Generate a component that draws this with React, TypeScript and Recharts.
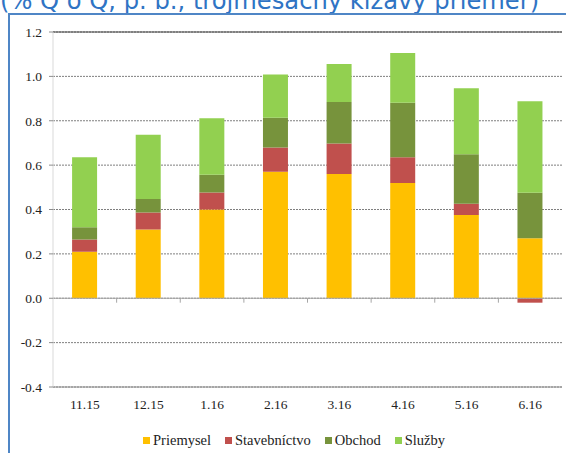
import React from "react"
import { BarChart, Bar, XAxis, YAxis, CartesianGrid, Legend, ReferenceLine } from "recharts"

const months = ["11.15", "12.15", "1.16", "2.16", "3.16", "4.16", "5.16", "6.16"]
const priemysel = [0.21, 0.31, 0.4, 0.57, 0.56, 0.52, 0.375, 0.27]
const stavebnictvo = [0.055, 0.077, 0.077, 0.11, 0.137, 0.116, 0.051, -0.02]
const obchod = [0.055, 0.06, 0.08, 0.133, 0.188, 0.245, 0.223, 0.205]
const sluzby = [0.315, 0.29, 0.254, 0.195, 0.171, 0.224, 0.298, 0.413]
const yTicks = [-0.4, -0.2, 0, 0.2, 0.4, 0.6, 0.8, 1.0, 1.2]

const series = [
  { key: "priemysel", name: "Priemysel", color: "#FFC000" },
  { key: "stavebnictvo", name: "Stavebníctvo", color: "#C0504D" },
  { key: "obchod", name: "Obchod", color: "#77933C" },
  { key: "sluzby", name: "Služby", color: "#92D050" },
]

const data = months.map((m, i) => ({
  month: m,
  priemysel: priemysel[i],
  stavebnictvo: stavebnictvo[i],
  obchod: obchod[i],
  sluzby: sluzby[i],
}))

const serif = "'Liberation Serif', 'Times New Roman', serif"

function LegendContent() {
  return (
    <div
      style={{
        display: "flex",
        justifyContent: "center",
        alignItems: "center",
        height: 26,
        fontFamily: serif,
        fontSize: 14.5,
        color: "#222",
        paddingLeft: 26,
      }}
    >
      {series.map((s, i) => (
        <span
          key={s.key}
          style={{ display: "flex", alignItems: "center", marginLeft: i === 0 ? 0 : 14 }}
        >
          <span style={{ width: 7, height: 7, background: s.color, marginRight: 3, display: "inline-block" }} />
          {s.name}
        </span>
      ))}
    </div>
  )
}

export default function App() {
  return (
    <div style={{ position: "absolute", left: 0, top: 0, width: 566, height: 453, overflow: "hidden", background: "#fff" }}>
      <style>{`.recharts-cartesian-axis-tick-value { font-family: ${serif}; }`}</style>
      <div
        style={{
          position: "absolute",
          left: 0,
          top: -14,
          fontFamily: "'DejaVu Sans', sans-serif",
          fontSize: 24.2,
          color: "#2f74c4",
          whiteSpace: "nowrap",
          lineHeight: "30px",
        }}
      >
        (% Q o Q, p. b., trojmesačný kĺzavý priemer)
      </div>
      <div
        style={{
          position: "absolute",
          left: 8,
          top: 13,
          width: 566,
          height: 460,
          borderTop: "2px solid #4f86c6",
          borderLeft: "2px solid #4f86c6",
        }}
      />
      <BarChart
        width={566}
        height={453}
        data={data}
        stackOffset="sign"
        barCategoryGap="30%"
        margin={{ top: 32, right: 4, left: 0, bottom: 0 }}
        style={{ position: "absolute", left: 0, top: 0 }}
      >
        <CartesianGrid vertical={false} stroke="#7f7f7f" strokeDasharray="2 1" />
        <XAxis
          dataKey="month"
          height={40}
          tickLine={false}
          tickSize={0}
          tickMargin={12}
          axisLine={{ stroke: "#8c8c8c" }}
          tick={{ fontFamily: serif, fontSize: 13.5, fill: "#222" }}
        />
        <YAxis
          domain={[-0.4, 1.2]}
          ticks={yTicks}
          width={53}
          tickSize={4}
          tickMargin={7}
          interval={0}
          allowDataOverflow
          tickFormatter={(v: number) => v.toFixed(1)}
          axisLine={{ stroke: "#d9d9d9" }}
          tickLine={{ stroke: "#8c8c8c" }}
          tick={{ fontFamily: serif, fontSize: 13.5, fill: "#222" }}
        />
        <YAxis
          yAxisId="right"
          orientation="right"
          domain={[-0.4, 1.2]}
          width={0}
          tick={false}
          tickLine={false}
          axisLine={{ stroke: "#d9d9d9" }}
        />
        <ReferenceLine y={1.2} stroke="#404040" />
        <ReferenceLine y={0} stroke="#a6a6a6" />
        {months.slice(1).map((m) => (
          <ReferenceLine
            key={m}
            segment={[{ x: m, y: 0 }, { x: m, y: -0.02 }]}
            position="start"
            stroke="#a6a6a6"
          />
        ))}
        <Legend content={<LegendContent />} height={26} verticalAlign="bottom" />
        {series.map((s) => (
          <Bar key={s.key} dataKey={s.key} name={s.name} stackId="a" fill={s.color} isAnimationActive={false} />
        ))}
      </BarChart>
    </div>
  )
}
